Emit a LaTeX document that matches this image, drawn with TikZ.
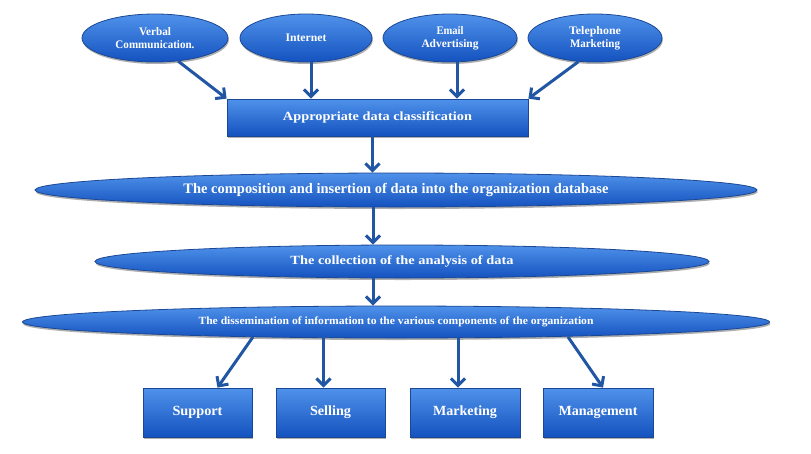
\documentclass[tikz,border=0pt]{standalone}
\usepackage{fontspec}
\setmainfont{Liberation Serif}
\usepackage{graphicx}
\usetikzlibrary{shapes.geometric,arrows.meta,shadows,calc}
\definecolor{btop}{HTML}{4F92EA}
\definecolor{bbot}{HTML}{1452BF}
\definecolor{bedge}{HTML}{1B4894}
\definecolor{arrc}{HTML}{2056A4}
\newcommand{\ft}[3]{\resizebox{#1pt}{\height}{\fontsize{#2}{#2}\selectfont\bfseries #3}}
\tikzset{
  base/.style={draw=bedge, line width=0.8pt, top color=btop, bottom color=bbot,
    text=white, inner sep=0pt, align=center,
    drop shadow={shadow xshift=0.8pt, shadow yshift=-2pt, opacity=0.45, fill=black!70}},
  oval/.style={base, ellipse},
  boxnode/.style={base, rectangle},
  arr/.style={draw=arrc, line width=3pt, -{Straight Barb[length=7pt,width=14pt]}}
}
\begin{document}
\begin{tikzpicture}[x=1pt,y=-1pt]
\useasboundingbox (0,0) rectangle (811,453);
\fill[white] (0,0) rectangle (811,453);
% top sources
\node[oval, minimum width=146pt, minimum height=48pt, font=\fontsize{11.5}{13}\selectfont] (v) at (155,38) {\ft{32}{11.5}{Verbal}\\\ft{79}{11.5}{Communication.}};
\node[oval, minimum width=132pt, minimum height=48pt] (i) at (306,38) {\ft{41}{11.5}{Internet}};
\node[oval, minimum width=134pt, minimum height=48pt, font=\fontsize{11.5}{13}\selectfont] (e) at (450,38) {\ft{27}{11.5}{Email}\\\ft{57}{11.5}{Advertising}};
\node[oval, minimum width=134pt, minimum height=48pt, font=\fontsize{11.5}{13}\selectfont] (t) at (595,38) {\ft{52}{11.5}{Telephone}\\\ft{50}{11.5}{Marketing}};
% classification
\node[boxnode, minimum width=301pt, minimum height=37pt] (r) at (377.5,117.5) {\ft{189}{12.5}{Appropriate data classification}};
% process ellipses
\node[oval, minimum width=722pt, minimum height=34pt] (c2) at (396,190) {\ft{425}{14.5}{The composition and insertion of data into the organization database}};
\node[oval, minimum width=614pt, minimum height=33pt] (c3) at (402,261.5) {\ft{223}{12.5}{The collection of the analysis of data}};
\node[oval, minimum width=747pt, minimum height=32pt] (c4) at (396,322) {\ft{395}{11}{The dissemination of information to the various components of the organization}};
% bottom boxes
\node[boxnode, minimum width=109pt, minimum height=49pt] (s) at (197.5,412.5) {\ft{50}{14}{Support}};
\node[boxnode, minimum width=109pt, minimum height=49pt] (sl) at (330.5,412.5) {\ft{41}{14}{Selling}};
\node[boxnode, minimum width=110pt, minimum height=49pt] (m) at (465,412.5) {\ft{64}{14}{Marketing}};
\node[boxnode, minimum width=110pt, minimum height=49pt] (mg) at (598,412.5) {\ft{79}{14}{Management}};
% arrows top
\draw[arr] (v.-45) -- (r.north west);
\draw[arr] ([xshift=5pt]i.south) coordinate (ai) -- (ai |- r.north);
\draw[arr] ([xshift=7pt]e.south) coordinate (ae) -- (ae |- r.north);
\draw[arr] (t.-125) -- (r.north east);
% arrows middle
\draw[arr] ([xshift=-5pt]r.south) coordinate (a1) -- (a1 |- c2.north);
\draw[arr] ([xshift=-23pt]c2.south) coordinate (a2) -- (a2 |- c3.north);
\draw[arr] ([xshift=-29pt]c3.south) coordinate (a3) -- (a3 |- c4.north);
% arrows bottom
\path ([xshift=-7pt]sl.north) coordinate (b2) ([xshift=-7pt]m.north) coordinate (b3);
\draw[arr] ($(c4.south)+(-143,-1.5)$) -- ($(s.north)+(20,0)$);
\draw[arr] (b2 |- c4.south) -- (b2);
\draw[arr] (b3 |- c4.south) -- (b3);
\draw[arr] ($(c4.south)+(172,-1.5)$) -- ($(mg.north)+(5,0)$);
\end{tikzpicture}
\end{document}
